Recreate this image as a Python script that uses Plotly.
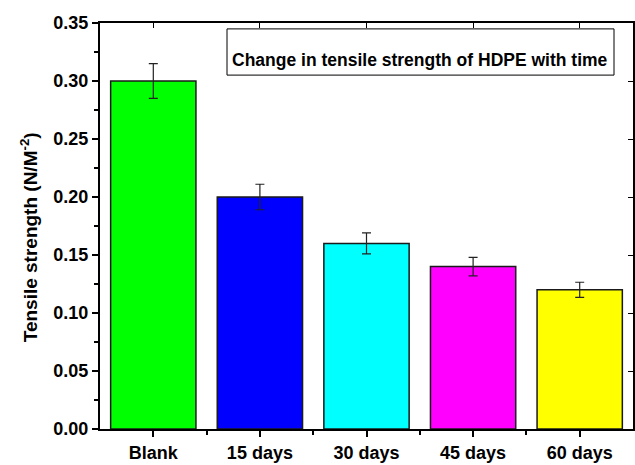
import plotly.graph_objects as go

categories = ["Blank", "15 days", "30 days", "45 days", "60 days"]
values = [0.30, 0.20, 0.16, 0.14, 0.12]
errors = [0.015, 0.011, 0.009, 0.008, 0.0065]
colors = ["#00ff00", "#0000ff", "#00ffff", "#ff00ff", "#ffff00"]
y_ticks = [0.00, 0.05, 0.10, 0.15, 0.20, 0.25, 0.30, 0.35]
y_ticktext = [f"{v:.2f}" for v in y_ticks]

FONT = "Liberation Sans, Arial, sans-serif"

fig = go.Figure()
fig.add_trace(go.Bar(
    x=list(range(len(categories))), y=values,
    width=0.8,
    marker=dict(color=colors, line=dict(color="#1a1a1a", width=1.5)),
    error_y=dict(type="data", array=errors, visible=True,
                 color="#222222", thickness=1.2, width=4.5),
    showlegend=False,
))

axis_common = dict(showline=True, linecolor="black", linewidth=2, showgrid=False, zeroline=False)

fig.update_layout(
    width=635, height=465,
    margin=dict(l=100, r=2, t=23, b=29),
    plot_bgcolor="white", paper_bgcolor="white",
    font=dict(family=FONT, color="black"),
    xaxis=dict(
        **axis_common,
        range=[-0.5, 4.5],
        tickmode="array", tickvals=list(range(len(categories))), ticktext=categories,
        ticks="outside", ticklen=6, tickwidth=1.5, tickcolor="black",
        tickfont=dict(size=18, family=FONT, weight="bold"),
        minor=dict(tickmode="array", tickvals=[0.5, 1.5, 2.5, 3.5],
                   ticks="outside", ticklen=4, tickwidth=1.5, tickcolor="black"),
    ),
    yaxis=dict(
        **axis_common,
        range=[0, 0.35],
        tickmode="array", tickvals=y_ticks, ticktext=y_ticktext,
        ticks="outside", ticklen=6, tickwidth=1.5, tickcolor="black",
        tickfont=dict(size=18, family=FONT, weight="bold"),
        minor=dict(dtick=0.025, ticks="outside", ticklen=4, tickwidth=1.5, tickcolor="black"),
    ),
    xaxis2=dict(
        **axis_common, overlaying="x", side="top", range=[-0.5, 4.5],
        tickmode="array", tickvals=list(range(len(categories))),
        showticklabels=False, ticks="inside", ticklen=5, tickwidth=1.2, tickcolor="black",
    ),
    yaxis2=dict(
        **axis_common, overlaying="y", side="right", range=[0, 0.35],
        tickmode="array", tickvals=y_ticks,
        showticklabels=False, ticks="inside", ticklen=5, tickwidth=1.2, tickcolor="black",
    ),
)

fig.add_trace(go.Scatter(x=[None], y=[None], xaxis="x2", yaxis="y2", showlegend=False, hoverinfo="skip"))

# y-axis title (placed as annotation to match reference offset)
fig.add_annotation(xref="paper", yref="paper", x=(29 - 100) / 533, y=(436 - 241) / 413,
                   text="Tensile strength (N/M<sup>-2</sup>)", textangle=-90, showarrow=False,
                   font=dict(size=19, family=FONT, weight="bold"), xanchor="center", yanchor="middle")

fig.add_shape(type="rect", xref="paper", yref="paper",
              x0=(227 - 100) / 533, x1=(614 - 100) / 533,
              y0=(436 - 76) / 413, y1=(436 - 29) / 413,
              line=dict(color="black", width=1), fillcolor="white", layer="above")
fig.add_annotation(xref="paper", yref="paper", x=(420 - 100) / 533, y=(436 - 61) / 413,
                   text="Change in tensile strength of HDPE with time", showarrow=False,
                   font=dict(size=17.5, family=FONT, weight="bold"), xanchor="center", yanchor="middle")

fig.write_html("out.html")
